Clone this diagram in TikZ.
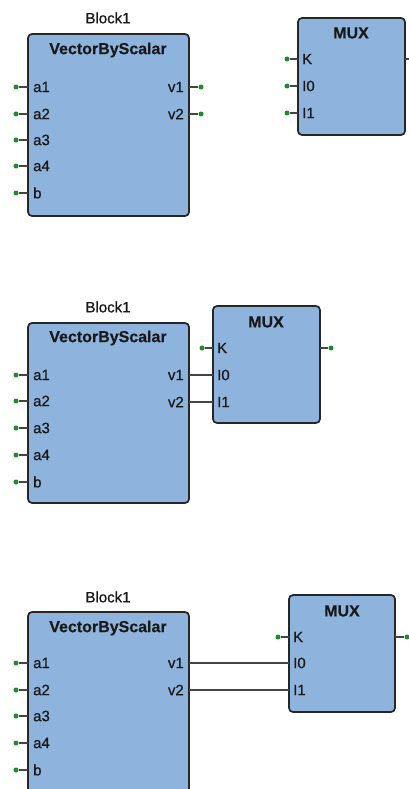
\documentclass[tikz,border=0pt]{standalone}
\usepackage{fontspec}
\setmainfont{Liberation Sans}
\newfontfamily\lblfont[FakeBold=0.6]{Liberation Sans}
\newfontfamily\ttlfont[FakeBold=0.4]{Liberation Sans Bold}
\definecolor{boxfill}{HTML}{8EB4DD}
\definecolor{boxline}{HTML}{262626}
\definecolor{portgreen}{HTML}{1E8C28}
\definecolor{wire}{HTML}{444444}
\begin{document}
\begin{tikzpicture}[x=1pt,y=-1pt,
  blockbox/.style={draw=boxline,fill=boxfill,line width=1.7pt,rounded corners=4pt},
  titletext/.style={font=\fontsize{16}{18}\selectfont\ttlfont,inner sep=0pt,text=black!90},
  lbl/.style={font=\fontsize{15}{17}\selectfont\lblfont,inner sep=0pt,text=black!90},
  pdot/.style={circle,fill=portgreen,inner sep=0pt,minimum size=5pt},
  stub/.style={draw=wire,line width=1.2pt},
  wireline/.style={draw=wire,line width=1.3pt}]
\useasboundingbox (0,0) rectangle (409,789);
\clip (0,0) rectangle (409,789);
\fill[white] (0,0) rectangle (409,789);

% Panel 1
\draw[blockbox] (28,34) rectangle (189,216);
\node[lbl] (blk1) at (108,18) {Block1};
\node[titletext] (vt1) at (108,50) {VectorByScalar};
\foreach \n/\y in {a1/87,a2/114,a3/140,a4/166,b/193}{
  \node[pdot] (p1\n) at (16,\y) {};
  \coordinate (e1\n) at (28,\y);
  \draw[stub] (p1\n) -- (e1\n);
  \node[lbl,anchor=west] (l1\n) at (33,\y) {\n};
}
\foreach \n/\y in {v1/87,v2/114}{
  \node[pdot] (p1\n) at (201,\y) {};
  \coordinate (e1\n) at (189,\y);
  \draw[stub] (e1\n) -- (p1\n);
  \node[lbl,anchor=east] (l1\n) at (184,\y) {\n};
}
\draw[blockbox] (298,18) rectangle (405,135);
\node[titletext] (mt1) at (351,33) {MUX};
\foreach \n/\t/\y in {K/K/59,I0/I0/86,I1/I1/113}{
  \node[pdot] (q1\n) at (287,\y) {};
  \coordinate (f1\n) at (298,\y);
  \draw[stub] (q1\n) -- (f1\n);
  \node[lbl,anchor=west] (m1\n) at (302,\y) {\t};
}
\coordinate (o1a) at (405,59);
\coordinate (o1b) at (415,59);
\draw[stub] (o1a) -- (o1b);

% Panel 2
\draw[blockbox] (28,323) rectangle (189,503);
\node[lbl] (blk2) at (108,307) {Block1};
\node[titletext] (vt2) at (108,338) {VectorByScalar};
\foreach \n/\y in {a1/375,a2/401,a3/428,a4/455,b/482}{
  \node[pdot] (p2\n) at (16,\y) {};
  \coordinate (e2\n) at (28,\y);
  \draw[stub] (p2\n) -- (e2\n);
  \node[lbl,anchor=west] (l2\n) at (33,\y) {\n};
}
\foreach \n/\y in {v1/375,v2/402}{
  \coordinate (e2\n) at (189,\y);
  \node[lbl,anchor=east] (l2\n) at (184,\y) {\n};
}
\draw[blockbox] (213,306) rectangle (320,423);
\node[titletext] (mt2) at (266,322) {MUX};
\node[pdot] (q2K) at (202,348) {};
\coordinate (f2K) at (213,348);
\draw[stub] (q2K) -- (f2K);
\foreach \n/\t/\y in {K/K/348,I0/I0/375,I1/I1/402}{
  \coordinate (f2\n) at (213,\y);
  \node[lbl,anchor=west] (m2\n) at (217,\y) {\t};
}
\draw[wireline] (e2v1) -- (f2I0);
\draw[wireline] (e2v2) -- (f2I1);
\coordinate (o2a) at (320,348);
\node[pdot] (o2) at (331,348) {};
\draw[stub] (o2a) -- (o2);

% Panel 3
\draw[blockbox] (28,612) rectangle (189,810);
\node[lbl] (blk3) at (108,597) {Block1};
\node[titletext] (vt3) at (108,628) {VectorByScalar};
\foreach \n/\y in {a1/663,a2/690,a3/716,a4/743,b/770}{
  \node[pdot] (p3\n) at (16,\y) {};
  \coordinate (e3\n) at (28,\y);
  \draw[stub] (p3\n) -- (e3\n);
  \node[lbl,anchor=west] (l3\n) at (33,\y) {\n};
}
\foreach \n/\y in {v1/663,v2/690}{
  \coordinate (e3\n) at (189,\y);
  \node[lbl,anchor=east] (l3\n) at (184,\y) {\n};
}
\draw[blockbox] (289,595) rectangle (395,712);
\node[titletext] (mt3) at (342,611) {MUX};
\node[pdot] (q3K) at (278,637) {};
\coordinate (f3K) at (289,637);
\draw[stub] (q3K) -- (f3K);
\foreach \n/\t/\y in {K/K/637,I0/I0/663,I1/I1/690}{
  \coordinate (f3\n) at (289,\y);
  \node[lbl,anchor=west] (m3\n) at (293,\y) {\t};
}
\draw[wireline] (e3v1) -- (f3I0);
\draw[wireline] (e3v2) -- (f3I1);
\coordinate (o3a) at (395,637);
\node[pdot] (o3) at (407,637) {};
\draw[stub] (o3a) -- (o3);
\end{tikzpicture}
\end{document}
